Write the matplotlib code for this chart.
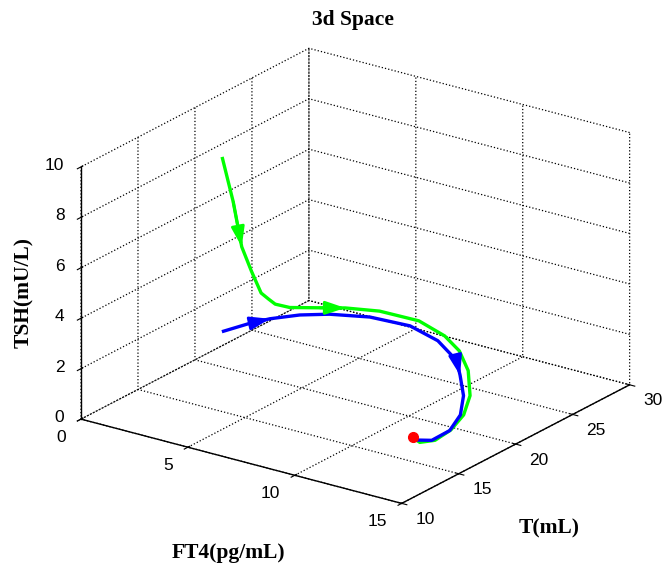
import matplotlib
matplotlib.use("Agg")
import matplotlib.pyplot as plt
from mpl_toolkits.mplot3d import proj3d

plt.rcParams["grid.color"] = "k"
plt.rcParams["grid.linestyle"] = ":"
plt.rcParams["grid.linewidth"] = 0.9
plt.rcParams["font.family"] = ["Liberation Sans", "DejaVu Sans"]

# trajectories (FT4, T, TSH)
green_ft4 = [3.9, 4.4, 4.8, 5.2, 5.6, 5.9, 6.1, 6.3, 6.8, 7.3, 8.1, 9.3, 10.4, 11.3, 12.3, 13.4, 13.9, 14.1, 14.0, 13.5, 12.9]
green_t = [15.1, 15.1, 15.1, 15.2, 15.3, 15.4, 15.6, 16.5, 18.2, 19.5, 21.0, 22.2, 22.4, 22.0, 20.9, 19.0, 17.5, 16.0, 14.8, 14.4, 14.9]
green_tsh = [10.0, 8.4, 6.7, 5.8, 5.0, 4.8, 4.6, 4.3, 4.0, 3.8, 3.5, 3.1, 2.7, 2.4, 2.1, 1.8, 1.5, 1.3, 1.15, 1.05, 1.0]

blue_ft4 = [4.0, 4.5, 5.0, 5.7, 6.5, 7.7, 9.1, 10.4, 11.7, 12.4, 13.2, 13.8, 14.1, 13.9, 13.3, 12.9]
blue_t = [15.0, 16.4, 17.2, 18.5, 19.6, 20.9, 21.8, 21.8, 21.0, 20.0, 18.8, 17.4, 15.9, 14.7, 14.6, 14.9]
blue_tsh = [3.2, 3.3, 3.4, 3.4, 3.35, 3.2, 2.95, 2.65, 2.35, 2.15, 1.8, 1.5, 1.3, 1.15, 1.05, 1.0]

eq_point = (12.9, 14.9, 1.0)

green_arrows = [2, 9]
blue_arrows = [2, 9]

ft4_ticks = [0, 5, 10, 15]
t_ticks = [10, 15, 20, 25, 30]
tsh_ticks = [0, 2, 4, 6, 8, 10]

fig = plt.figure(figsize=(6.66, 5.67), dpi=100)
ax = fig.add_axes([0.022, 0.0, 1.0, 1.0], projection="3d", proj_type="ortho")
ax.computed_zorder = False
ax.view_init(elev=21.7, azim=-54.6)
ax.set_box_aspect((1.0, 1.0, 0.69), zoom=1.06)

ax.set_xlim(0, 15)
ax.set_ylim(10, 30)
ax.set_zlim(0, 10)
ax.set_xticks(ft4_ticks)
ax.set_yticks(t_ticks)
ax.set_zticks(tsh_ticks)
ax.set_xticklabels([])
ax.set_yticklabels([])
ax.set_zticklabels([])

for axis in (ax.xaxis, ax.yaxis, ax.zaxis):
    axis.set_pane_color((1, 1, 1, 0))
    axis.pane.set_edgecolor("none")
    axis._axinfo["grid"].update(color="k", linestyle=":", linewidth=0.9)
    axis.line.set_color("k")
    axis.line.set_linewidth(1.0)
ax.zaxis.set_ticks_position("lower")
ax.zaxis.set_label_position("lower")

ax.plot(green_ft4, green_t, green_tsh, color=(0, 1, 0), lw=2.4, zorder=3)
ax.plot(blue_ft4, blue_t, blue_tsh, color=(0, 0, 1), lw=2.4, zorder=4)
ax.plot([eq_point[0]], [eq_point[1]], [eq_point[2]], "o", color="r", ms=7, zorder=5)

M = ax.get_proj()


def screen(x, y, z):
    px, py, _ = proj3d.proj_transform(x, y, z, M)
    return px, py


# direction arrows along the trajectories
for xs, ys, zs, idx, col in [(green_ft4, green_t, green_tsh, green_arrows, (0, 1, 0)),
                             (blue_ft4, blue_t, blue_tsh, blue_arrows, (0, 0, 1))]:
    for i in idx:
        ax.annotate("", xy=screen(xs[i], ys[i], zs[i]),
                    xytext=screen(xs[i - 1], ys[i - 1], zs[i - 1]),
                    arrowprops=dict(arrowstyle="-|>,head_length=0.6,head_width=0.2",
                                    color=col, lw=2, mutation_scale=20,
                                    shrinkA=0, shrinkB=0), zorder=6)

# tick labels placed next to the axis lines
tick_font = dict(fontsize=12.5, textcoords="offset points", va="center")
for v in ft4_ticks:
    ax.annotate(str(v), xy=screen(v, 10, 0), xytext=(-10.8, -13), ha="right", **tick_font)
for v in t_ticks:
    ax.annotate(str(v), xy=screen(15, v, 0), xytext=(9.7, -11.5), ha="left", **tick_font)
for v in tsh_ticks:
    ax.annotate(str(v), xy=screen(0, 10, v), xytext=(-11.9, 1.0), ha="right", **tick_font)

lab = dict(family="Liberation Serif", fontweight="bold", fontsize=15.5)
ax.set_xlabel("")
ax.set_ylabel("")
ax.set_zlabel("")
fig.text(228 / 666, 1 - 553 / 567, "FT4(pg/mL)", ha="center", va="center", **lab)
fig.text(549 / 666, 1 - 528 / 567, "T(mL)", ha="center", va="center", **lab)
fig.text(24 / 666, 1 - 293 / 567, "TSH(mU/L)", ha="center", va="center", rotation=90, **lab)
fig.text(353 / 666, 1 - 20 / 567, "3d Space", ha="center", va="center", **lab)

fig.savefig("out.png", dpi=100)
